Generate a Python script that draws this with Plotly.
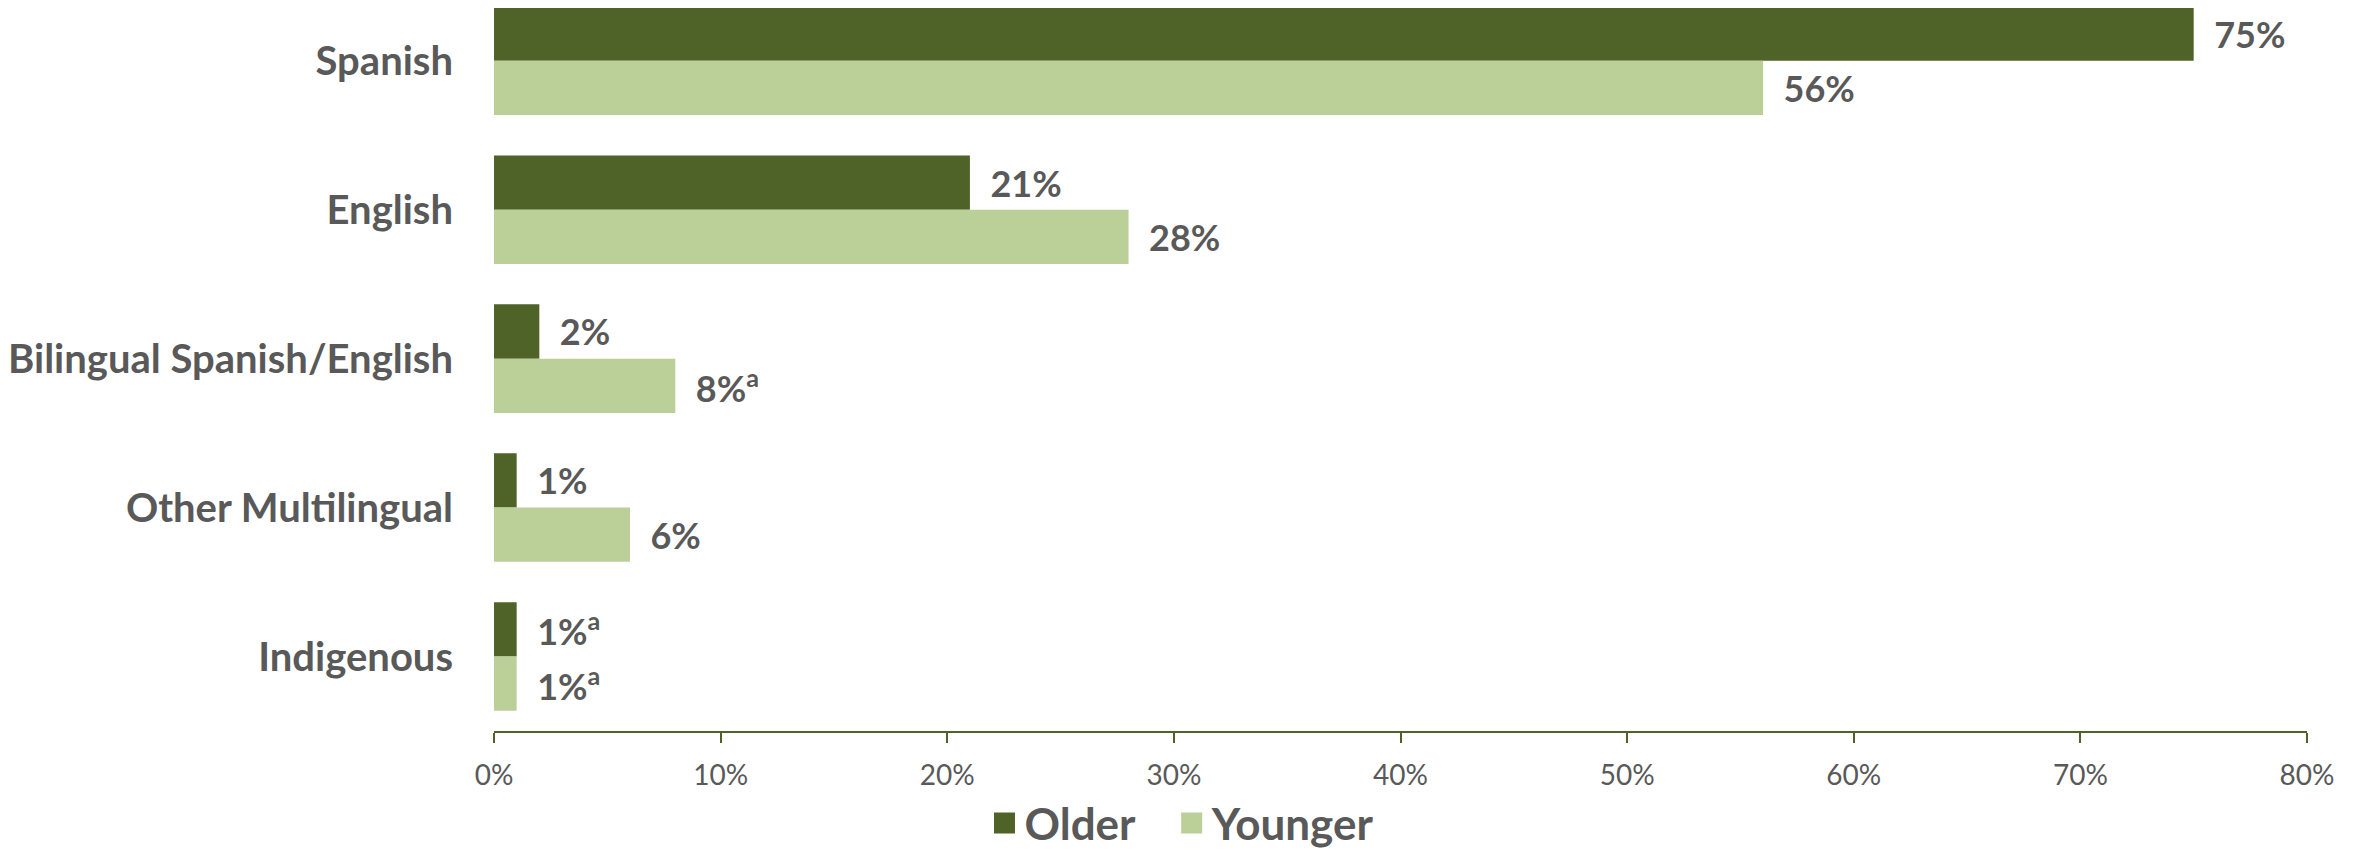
import plotly.graph_objects as go

categories = ["Spanish", "English", "Bilingual Spanish/English", "Other Multilingual", "Indigenous"]
older = [75, 21, 2, 1, 1]
younger = [56, 28, 8, 6, 1]
older_labels = ["75%", "21%", "2%", "1%", "1%<sup>a</sup>"]
younger_labels = ["56%", "28%", "8%<sup>a</sup>", "6%", "1%<sup>a</sup>"]
tick_vals = [0, 10, 20, 30, 40, 50, 60, 70, 80]
tick_text = ["0%", "10%", "20%", "30%", "40%", "50%", "60%", "70%", "80%"]
series_names = ["Older", "Younger"]

DARK = "#4F6228"
LIGHT = "#BBD098"
TXT = "#595959"
FONT = "Lato"
PAD = "\u00a0\u00a0"

fig = go.Figure()
fig.add_trace(go.Bar(
    y=categories, x=older, orientation="h", name=series_names[0],
    marker=dict(color=DARK, line=dict(width=0)),
    text=[PAD + t for t in older_labels], textposition="outside",
    textfont=dict(family=FONT, size=36, color=TXT, weight="bold"),
    cliponaxis=False, constraintext="none", showlegend=False,
))
fig.add_trace(go.Bar(
    y=categories, x=younger, orientation="h", name=series_names[1],
    marker=dict(color=LIGHT, line=dict(width=0)),
    text=[PAD + t for t in younger_labels], textposition="outside",
    textfont=dict(family=FONT, size=36, color=TXT, weight="bold"),
    cliponaxis=False, constraintext="none", showlegend=False,
))
# legend entries
legend_names = [series_names[0] + "\u00a0\u00a0\u00a0", series_names[1]]
for nm, col in zip(legend_names, [DARK, LIGHT]):
    fig.add_trace(go.Scatter(
        x=[None], y=[None], mode="markers", name=nm,
        marker=dict(symbol="square", size=22, color=col, line=dict(color=col, width=5)),
        showlegend=True,
    ))

# page body has an 8px margin, so the figure is sized to fit the window
fig.update_layout(
    width=2348, height=851,
    paper_bgcolor="white", plot_bgcolor="white",
    barmode="group", bargap=0.271, bargroupgap=0,
    margin=dict(l=486, r=49, t=0, b=128, pad=0),
    font=dict(family=FONT, color=TXT),
    showlegend=True,
    legend=dict(
        orientation="h", x=0.5, xanchor="center", xref="container",
        y=-0.048, yanchor="bottom", yref="container",
        font=dict(family=FONT, size=44, color=TXT, weight="bold"),
        itemsizing="trace", traceorder="normal", itemwidth=30,
        bgcolor="rgba(0,0,0,0)",
    ),
    xaxis=dict(
        range=[0, 80], tickvals=tick_vals, ticktext=tick_text,
        showgrid=False, zeroline=False, automargin=False,
        showline=True, linecolor=DARK, linewidth=2,
        ticks="outside", ticklen=10, tickcolor=DARK, tickwidth=2,
        tickfont=dict(family=FONT, size=28, color=TXT),
        ticklabelstandoff=8,
    ),
    yaxis=dict(
        type="category", categoryorder="array", categoryarray=categories,
        range=[4.5, -0.354], automargin=False,
        showgrid=False, zeroline=False, showline=False, ticks="",
        tickfont=dict(family=FONT, size=40, color=TXT, weight="bold"),
        ticklabelstandoff=40,
    ),
)

fig.write_html("out.html")
